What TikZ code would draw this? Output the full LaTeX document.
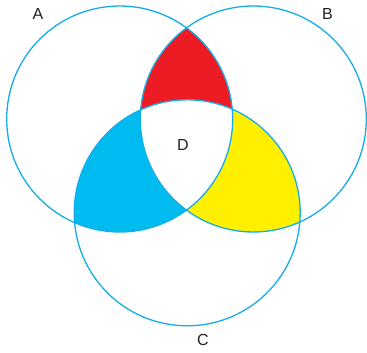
\documentclass[tikz,border=0pt]{standalone}
\usepackage{fontspec}
\setmainfont{Liberation Sans}
\usetikzlibrary{positioning}
\definecolor{ringblue}{RGB}{22,172,232}
\definecolor{setred}{RGB}{237,28,36}
\definecolor{setcyan}{RGB}{0,187,240}
\definecolor{setyellow}{RGB}{255,240,0}
\definecolor{lblgray}{RGB}{35,31,32}
\tikzset{
  ring/.style={draw=ringblue, line width=1.3pt},
  lbl/.style={font=\fontsize{16}{18}\selectfont, text=lblgray, inner sep=0pt}
}
\newcommand{\vennrad}{113pt}

\begin{document}
\begin{tikzpicture}[x=1pt, y=-1pt]
\useasboundingbox (0,0) rectangle (367,353);

%% ── CENTRES ──────────────────────────────────────────────
\coordinate (ca) at (119.7,119);
\coordinate (cb) at (253.3,119);
\coordinate (cc) at (187.2,212.8);

%% ── FILLS: pairwise overlaps, then the triple one ────────
\begin{scope}
  \clip (ca) circle (\vennrad);
  \fill[setred]  (cb) circle (\vennrad);
  \fill[setcyan] (cc) circle (\vennrad);
\end{scope}
\begin{scope}
  \clip (cb) circle (\vennrad);
  \fill[setyellow] (cc) circle (\vennrad);
  \clip (cc) circle (\vennrad);
  \fill[white] (ca) circle (\vennrad);
\end{scope}

%% ── RINGS ────────────────────────────────────────────────
\draw[ring] (ca) circle (\vennrad);
\draw[ring] (cb) circle (\vennrad);
\draw[ring] (cc) circle (\vennrad);

%% ── LABELS ───────────────────────────────────────────────
\node[lbl] (la) at (38,14)  {A};
\node[lbl] (lb) at (327.5,14) {B};
\node[lbl] (lc) at (203,340) {C};
\node[lbl] (ld) at (183,145) {D};

\end{tikzpicture}
\end{document}
